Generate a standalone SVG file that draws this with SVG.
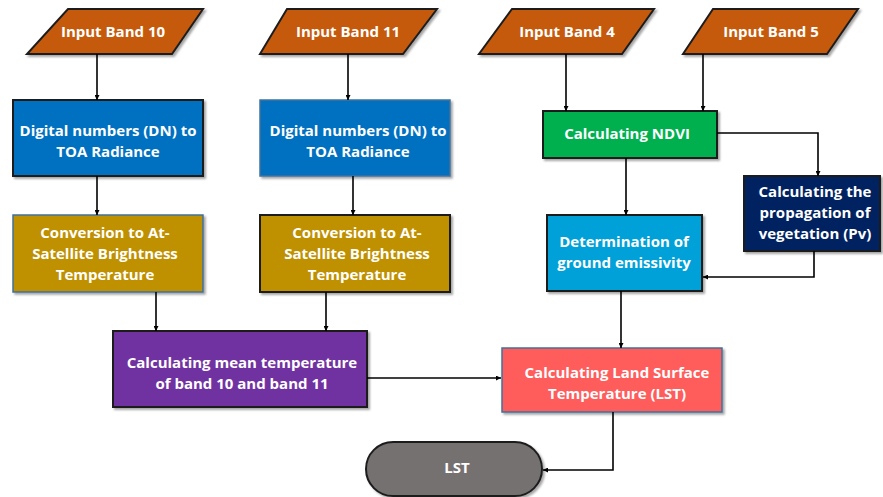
<svg xmlns="http://www.w3.org/2000/svg" width="883" height="497" viewBox="0 0 883 497">
<defs>
<marker id="ah" viewBox="0 0 10 10" refX="10" refY="5" markerWidth="5" markerHeight="5" orient="auto" markerUnits="userSpaceOnUse"><path d="M0,0L10,5L0,10z" fill="#000"/></marker>
<filter id="sh" x="-10%" y="-10%" width="130%" height="130%"><feDropShadow dx="2" dy="2" stdDeviation="1.2" flood-color="#000" flood-opacity="0.35"/></filter>
</defs>
<style>
.n{stroke:#1e1e1e;stroke-width:2;filter:url(#sh)}
.b{stroke:#41719c;stroke-width:1.5;filter:url(#sh)}
.t{font-family:"Open Sans",sans-serif;font-weight:bold;font-size:15px;fill:#fff;text-anchor:middle;dominant-baseline:central}
.c{fill:none;stroke:#000;stroke-width:1.6;marker-end:url(#ah)}
</style>
<rect width="883" height="497" fill="#fff"/>
<g id="band10"><polygon class="n" points="68,9 203,9 172,54 27,54" fill="#c55a11"/><text class="t" x="113" y="31">Input Band 10</text></g>
<g id="band11"><polygon class="n" points="287,9 437,9 403,54 260,54" fill="#c55a11"/><text class="t" x="348" y="31">Input Band 11</text></g>
<g id="band4"><polygon class="n" points="512,9 654,9 622,54 479,54" fill="#c55a11"/><text class="t" x="567" y="31">Input Band 4</text></g>
<g id="band5"><polygon class="n" points="713,9 858,9 827,54 683,54" fill="#c55a11"/><text class="t" x="771" y="31">Input Band 5</text></g>
<g id="dn1"><rect class="n" x="13" y="100" width="190" height="76" fill="#0070c0"/><text class="t" x="108" y="130">Digital numbers (DN) to</text><text class="t" x="108" y="151">TOA Radiance</text></g>
<g id="dn2"><rect class="b" x="260" y="100" width="190" height="76" fill="#0070c0"/><text class="t" x="358" y="130">Digital numbers (DN) to</text><text class="t" x="358" y="151">TOA Radiance</text></g>
<g id="conv1"><rect class="b" x="13" y="215" width="190" height="77" fill="#bf9000"/><text class="t" x="105" y="232">Conversion to At-</text><text class="t" x="105" y="253">Satellite Brightness</text><text class="t" x="105" y="274">Temperature</text></g>
<g id="conv2"><rect class="n" x="260" y="215" width="190" height="77" fill="#bf9000"/><text class="t" x="357" y="232">Conversion to At-</text><text class="t" x="357" y="253">Satellite Brightness</text><text class="t" x="357" y="274">Temperature</text></g>
<g id="mean"><rect class="n" x="113" y="331" width="254" height="76" fill="#7030a0"/><text class="t" x="242" y="362">Calculating mean temperature</text><text class="t" x="242" y="383">of band 10 and band 11</text></g>
<g id="ndvi"><rect class="n" x="543" y="111" width="174" height="47" fill="#00b050"/><text class="t" x="627" y="133">Calculating NDVI</text></g>
<g id="pv"><rect class="n" x="744" y="176" width="136" height="75" fill="#002060"/><text class="t" x="815" y="191">Calculating the</text><text class="t" x="815" y="212">propagation of</text><text class="t" x="815" y="233">vegetation (Pv)</text></g>
<g id="emis"><rect class="n" x="547" y="215" width="155" height="76" fill="#00a0d8"/><text class="t" x="624" y="241">Determination of</text><text class="t" x="624" y="262">ground emissivity</text></g>
<g id="lstcalc"><rect class="b" x="502" y="348" width="220" height="64" fill="#ff5b5b"/><text class="t" x="617" y="372">Calculating Land Surface</text><text class="t" x="617" y="393">Temperature (LST)</text></g>
<g id="lst"><rect class="n" x="366" y="442" width="176" height="54" rx="27" ry="27" fill="#767171"/><text class="t" x="457" y="467">LST</text></g>
<g id="connectors">
<path class="c" d="M97,54V100"/>
<path class="c" d="M348,54V100"/>
<path class="c" d="M566,54V111"/>
<path class="c" d="M703,54V111"/>
<path class="c" d="M97,176V215"/>
<path class="c" d="M353,176V215"/>
<path class="c" d="M156,292V331"/>
<path class="c" d="M326,292V331"/>
<path class="c" d="M717,133H818V176"/>
<path class="c" d="M626,158V215"/>
<path class="c" d="M814,251V277H703"/>
<path class="c" d="M621,291V348"/>
<path class="c" d="M367,378H501"/>
<path class="c" d="M613,412V470H543"/>
</g>
</svg>
